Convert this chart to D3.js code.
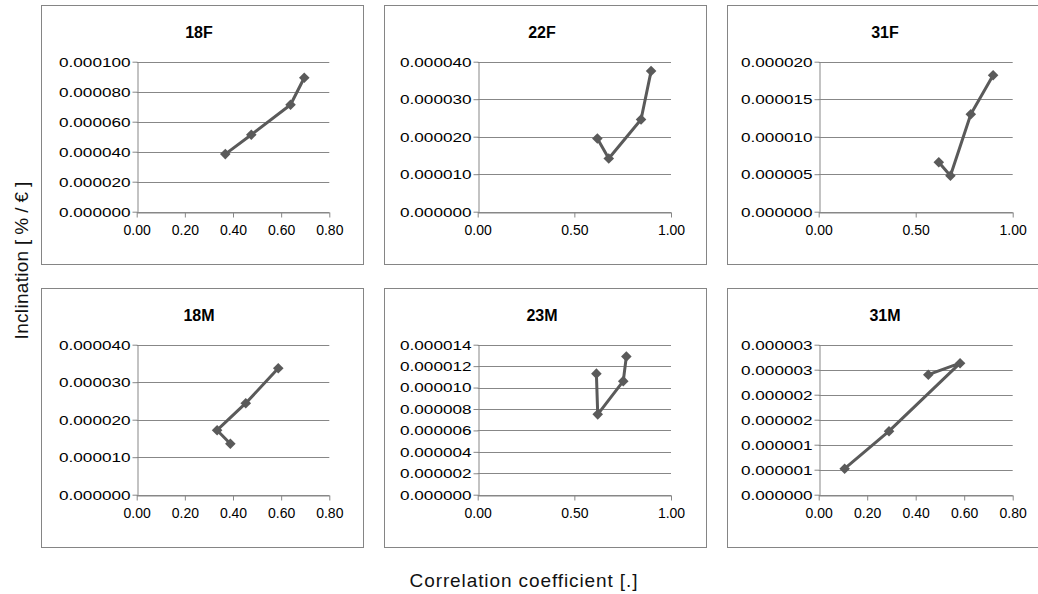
<!DOCTYPE html>
<html lang="en">
<head>
<meta charset="utf-8">
<title>Inclination vs correlation coefficient</title>
<style>
  body { margin: 0; background: #fff; }
  svg { display: block; font-family: "Liberation Sans", Arial, sans-serif; }
</style>
</head>
<body>
<script src="https://cdn.jsdelivr.net/npm/d3@7"></script>
<script>
// panel titles, reading order (top row then bottom row)
var titles = ["18F", "22F", "31F", "18M", "23M", "31M"];

// correlation coefficient (x) and inclination (y), in line order
var x18F = [0.368, 0.476, 0.639, 0.696];
var y18F = [0.0000384, 0.0000513, 0.0000713, 0.0000893];
var x22F = [0.619, 0.678, 0.845, 0.897];
var y22F = [0.0000195, 0.0000142, 0.0000246, 0.0000375];
var x31F = [0.619, 0.679, 0.784, 0.899];
var y31F = [0.0000066, 0.0000048, 0.0000130, 0.0000182];
var x18M = [0.389, 0.334, 0.453, 0.588];
var y18M = [0.0000136, 0.0000172, 0.0000244, 0.0000337];
var x23M = [0.614, 0.621, 0.753, 0.769];
var y23M = [0.0000113, 0.0000075, 0.0000106, 0.0000129];
var x31M = [0.107, 0.290, 0.583, 0.452];
var y31M = [0.00000052, 0.00000127, 0.00000263, 0.00000240];

// tick values and their labels
var xTicks08 = [0, 0.2, 0.4, 0.6, 0.8];
var xLabels08 = ["0.00", "0.20", "0.40", "0.60", "0.80"];
var xTicks10 = [0, 0.5, 1];
var xLabels10 = ["0.00", "0.50", "1.00"];

var yTicks18F = [0, 0.00002, 0.00004, 0.00006, 0.00008, 0.0001];
var yLabels18F = ["0.000000", "0.000020", "0.000040", "0.000060", "0.000080", "0.000100"];
var yTicks22F = [0, 0.00001, 0.00002, 0.00003, 0.00004];
var yLabels22F = ["0.000000", "0.000010", "0.000020", "0.000030", "0.000040"];
var yTicks31F = [0, 0.000005, 0.00001, 0.000015, 0.00002];
var yLabels31F = ["0.000000", "0.000005", "0.000010", "0.000015", "0.000020"];
var yTicks18M = [0, 0.00001, 0.00002, 0.00003, 0.00004];
var yLabels18M = ["0.000000", "0.000010", "0.000020", "0.000030", "0.000040"];
var yTicks23M = [0, 0.000002, 0.000004, 0.000006, 0.000008, 0.00001, 0.000012, 0.000014];
var yLabels23M = ["0.000000", "0.000002", "0.000004", "0.000006", "0.000008", "0.000010", "0.000012", "0.000014"];
var yTicks31M = [0, 0.0000005, 0.000001, 0.0000015, 0.000002, 0.0000025, 0.000003];
var yLabels31M = ["0.000000", "0.000001", "0.000001", "0.000002", "0.000002", "0.000003", "0.000003"];

var panels = [
    {x: x18F, y: y18F, xt: xTicks08, xl: xLabels08, yt: yTicks18F, yl: yLabels18F},
    {x: x22F, y: y22F, xt: xTicks10, xl: xLabels10, yt: yTicks22F, yl: yLabels22F},
    {x: x31F, y: y31F, xt: xTicks10, xl: xLabels10, yt: yTicks31F, yl: yLabels31F},
    {x: x18M, y: y18M, xt: xTicks08, xl: xLabels08, yt: yTicks18M, yl: yLabels18M},
    {x: x23M, y: y23M, xt: xTicks10, xl: xLabels10, yt: yTicks23M, yl: yLabels23M},
    {x: x31M, y: y31M, xt: xTicks08, xl: xLabels08, yt: yTicks31M, yl: yLabels31M}
];

var w = 1038;
var h = 594;

// layout of the 3x2 grid of framed charts
var boxX = [41, 384, 727];
var boxY = [5, 288];
var boxW = 322;
var boxH = 259;
var plotLeft = [136.7, 477.7, 818.7];
var plotRight = [329.3, 671, 1012.7];
var plotTop = 56.7;     // offset from box top
var plotBottom = 206.7;

var grey = "#878787";
var ink = "#5a5a5a";

var svg = d3.select("body")
    .append("svg")
    .attr("width", w)
    .attr("height", h);

panels.forEach(function(p, i) {
    var col = i % 3;
    var row = Math.floor(i / 3);
    var g = svg.append("g");

    g.append("rect")
        .attr("x", boxX[col] + 0.5)
        .attr("y", boxY[row] + 0.5)
        .attr("width", boxW)
        .attr("height", boxH)
        .attr("fill", "#fff")
        .attr("stroke", "#858585");

    g.append("text")
        .attr("x", boxX[col] + boxW / 2 - 3)
        .attr("y", boxY[row] + 33)
        .attr("text-anchor", "middle")
        .attr("font-size", 16)
        .attr("font-weight", "bold")
        .text(titles[i]);

    var x = d3.scaleLinear()
        .domain([p.xt[0], p.xt[p.xt.length - 1]])
        .range([plotLeft[col], plotRight[col]]);
    var y = d3.scaleLinear()
        .domain([p.yt[0], p.yt[p.yt.length - 1]])
        .range([boxY[row] + plotBottom, boxY[row] + plotTop]);

    // horizontal gridlines
    g.append("g").selectAll("line")
        .data(p.yt)
        .enter()
        .append("line")
        .attr("x1", x.range()[0])
        .attr("x2", x.range()[1])
        .attr("y1", function(d) { return Math.round(y(d)) + 0.5; })
        .attr("y2", function(d) { return Math.round(y(d)) + 0.5; })
        .attr("stroke", grey);

    var yAxis = g.append("g")
        .attr("transform", "translate(" + (Math.round(x.range()[0]) + 0.5) + ",0)")
        .call(d3.axisLeft(y)
            .tickValues(p.yt)
            .tickFormat(function(d, j) { return p.yl[j]; })
            .tickSize(5)
            .tickSizeOuter(0)
            .tickPadding(2));

    var xAxis = g.append("g")
        .attr("transform", "translate(0," + (Math.round(y.range()[0]) + 0.5) + ")")
        .call(d3.axisBottom(x)
            .tickValues(p.xt)
            .tickFormat(function(d, j) { return p.xl[j]; })
            .tickSize(5)
            .tickSizeOuter(0)
            .tickPadding(8));

    [yAxis, xAxis].forEach(function(a) {
        a.selectAll("path, line").attr("stroke", grey);
        a.selectAll("text")
            .attr("fill", "#000")
            .attr("font-family", "'Liberation Sans', Arial, sans-serif");
    });
    // y labels are drawn wide in the original, so stretch them sideways
    yAxis.selectAll("text")
        .attr("font-size", 13.5)
        .attr("x", -7 / 1.27)
        .attr("transform", "scale(1.27,1)");
    xAxis.selectAll("text").attr("font-size", 14);

    var pts = p.x.map(function(v, j) { return [v, p.y[j]]; });

    g.append("path")
        .datum(pts)
        .attr("fill", "none")
        .attr("stroke", ink)
        .attr("stroke-width", 3)
        .attr("stroke-linejoin", "round")
        .attr("d", d3.line()
            .x(function(d) { return x(d[0]); })
            .y(function(d) { return y(d[1]); }));

    g.append("g").selectAll("path")
        .data(pts)
        .enter()
        .append("path")
        .attr("d", d3.symbol(d3.symbolSquare, 56))
        .attr("transform", function(d) {
            return "translate(" + x(d[0]) + "," + y(d[1]) + ") rotate(45)";
        })
        .attr("fill", ink);
});

// shared axis titles
svg.append("text")
    .attr("x", 524)
    .attr("y", 587)
    .attr("text-anchor", "middle")
    .attr("font-size", 19)
    .attr("letter-spacing", 0.9)
    .attr("fill", "#111")
    .text("Correlation coefficient [.]");

var yTitle = svg.append("text")
    .attr("transform", "translate(28,258) rotate(-90)")
    .attr("text-anchor", "middle")
    .attr("font-size", 19)
    .attr("fill", "#111");
yTitle.append("tspan")
    .attr("letter-spacing", 0.3)
    .text("Inclination  ");
yTitle.append("tspan")
    .attr("letter-spacing", 5)
    .text("[%/€]");
</script>
</body>
</html>
